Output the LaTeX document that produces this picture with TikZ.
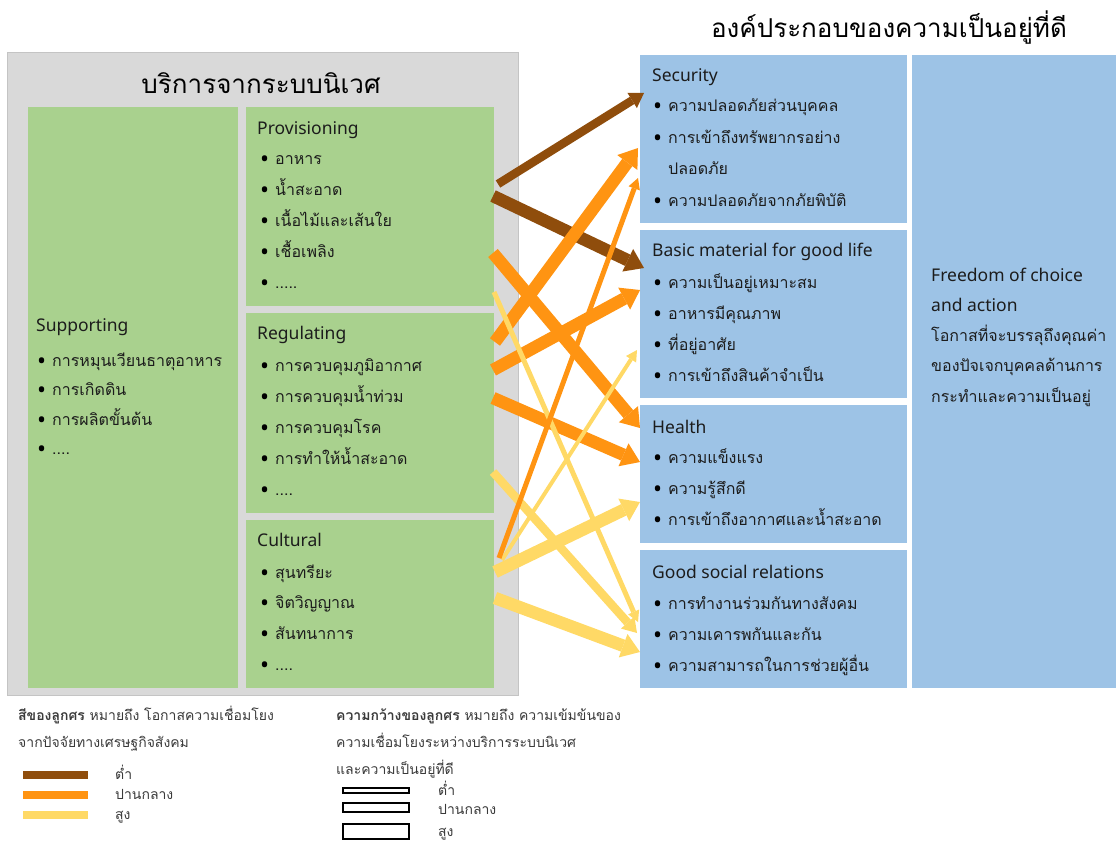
\documentclass[tikz,border=0pt]{standalone}
\usepackage{fontspec}
\usetikzlibrary{arrows.meta}
\setmainfont{Noto Sans}
\newfontfamily\thai[Script=Thai]{Loma}
\newfontfamily\lat{Noto Sans}

\definecolor{boxgreen}{HTML}{A9D18E}
\definecolor{boxblue}{HTML}{9DC3E6}
\definecolor{panelgray}{HTML}{D9D9D9}
\definecolor{paneledge}{HTML}{C4C4C4}
\definecolor{ink}{HTML}{1C1C1C}
\definecolor{legendink}{HTML}{3A3A3A}
\definecolor{flowbrown}{HTML}{8F4D0C}
\definecolor{floworange}{HTML}{FF9412}
\definecolor{flowyellow}{HTML}{FFD966}

% bullet with a fixed indent
\newcommand{\bdot}{\makebox[14pt][l]{\hspace*{-1pt}\raisebox{-3.2pt}{\lat\fontsize{24}{24}\selectfont\color{black}\char"2022}}}
% open-ended list markers
\newcommand{\moreA}{.....}
\newcommand{\moreB}{....}

\tikzset{
  panel/.style={anchor=north west, inner sep=0, outer sep=0, fill=panelgray, draw=paneledge, line width=0.8pt},
  gbox/.style={anchor=north west, inner sep=0, outer sep=0, fill=boxgreen},
  bbox/.style={anchor=north west, inner sep=0, outer sep=0, fill=boxblue},
  head/.style={anchor=base west, inner sep=0, text=ink, font=\lat\fontsize{17.5}{20}\selectfont},
  item/.style={anchor=base west, inner sep=0, text=ink, font=\thai\fontsize{16}{19}\selectfont},
  bigtitle/.style={anchor=base, inner sep=0, text=black, font=\thai\fontsize{26}{30}\selectfont},
  legendtext/.style={anchor=base west, inner sep=0, text=legendink, font=\thai\fontsize{14}{16}\selectfont},
  colorbar/.style={anchor=north west, inner sep=0, outer sep=0, minimum width=65pt, minimum height=8pt},
  widthbar/.style={anchor=north west, inner sep=0, outer sep=0, draw=black, fill=white, line width=1.3pt, minimum width=66pt},
  wlow/.style={line width=5pt, -{Triangle[length=11pt,width=12pt,line width=0pt]}},
  wmid/.style={line width=8.5pt, -{Triangle[length=14pt,width=18pt,line width=0pt]}},
  whigh/.style={line width=12.5pt, -{Triangle[length=18pt,width=25pt,line width=0pt]}},
  clow/.style={draw=flowbrown, fill=flowbrown},
  cmid/.style={draw=floworange, fill=floworange},
  chigh/.style={draw=flowyellow, fill=flowyellow},
}

\begin{document}
\begin{tikzpicture}[x=1pt,y=-1pt]
\useasboundingbox (0,0) rectangle (1116,846);

% ---------- ecosystem services ----------
\node[panel, minimum width=511pt, minimum height=643pt] (eco) at (7,52) {};
\node[bigtitle] (ecotitle) at (261,93) {บริการจากระบบนิเวศ};

\node[gbox, minimum width=210pt, minimum height=581pt] (supp) at (28,107) {};
\node[gbox, minimum width=248pt, minimum height=199pt] (prov) at (246,107) {};
\node[gbox, minimum width=248pt, minimum height=200pt] (reg)  at (246,313) {};
\node[gbox, minimum width=248pt, minimum height=168pt] (cult) at (246,520) {};

\node[head] (supph) at (36,331) {Supporting};
\foreach \t [count=\i] in {การหมุนเวียนธาตุอาหาร,การเกิดดิน,การผลิตขั้นต้น,\moreB}
  \node[item] (supp-\i) at (38,{366+29.5*(\i-1)}) {\bdot\t};

\node[head] (provh) at (257,134) {Provisioning};
\foreach \t [count=\i] in {อาหาร,น้ำสะอาด,เนื้อไม้และเส้นใย,เชื้อเพลิง,\moreA}
  \node[item] (prov-\i) at (261,{164+31*(\i-1)}) {\bdot\t};

\node[head] (regh) at (257,339) {Regulating};
\foreach \t [count=\i] in {การควบคุมภูมิอากาศ,การควบคุมน้ำท่วม,การควบคุมโรค,การทำให้น้ำสะอาด,\moreB}
  \node[item] (reg-\i) at (261,{371+31*(\i-1)}) {\bdot\t};

\node[head] (culth) at (257,546) {Cultural};
\foreach \t [count=\i] in {สุนทรียะ,จิตวิญญาณ,สันทนาการ,\moreB}
  \node[item] (cult-\i) at (261,{578+30.7*(\i-1)}) {\bdot\t};

% ---------- constituents of well-being ----------
\node[bigtitle] (wbtitle) at (889,37) {องค์ประกอบของความเป็นอยู่ที่ดี};

\node[bbox, minimum width=267pt, minimum height=168pt] (sec)    at (640,55) {};
\node[bbox, minimum width=267pt, minimum height=168pt] (basic)  at (640,230) {};
\node[bbox, minimum width=267pt, minimum height=138pt] (health) at (640,405) {};
\node[bbox, minimum width=267pt, minimum height=138pt] (social) at (640,550) {};
\node[bbox, minimum width=204pt, minimum height=633pt] (free)   at (912,55) {};

\node[head] (sech) at (652,81) {Security};
\node[item] (sec-1) at (654,111) {\bdot ความปลอดภัยส่วนบุคคล};
\node[item] (sec-2) at (654,143) {\bdot การเข้าถึงทรัพยากรอย่าง};
\node[item] (sec-3) at (668,174) {ปลอดภัย};
\node[item] (sec-4) at (654,206) {\bdot ความปลอดภัยจากภัยพิบัติ};

\node[head] (basich) at (652,256) {Basic material for good life};
\foreach \t [count=\i] in {ความเป็นอยู่เหมาะสม,อาหารมีคุณภาพ,ที่อยู่อาศัย,การเข้าถึงสินค้าจำเป็น}
  \node[item] (basic-\i) at (654,{288+31*(\i-1)}) {\bdot\t};

\node[head] (healthh) at (652,433) {Health};
\foreach \t [count=\i] in {ความแข็งแรง,ความรู้สึกดี,การเข้าถึงอากาศและน้ำสะอาด}
  \node[item] (health-\i) at (654,{463+31*(\i-1)}) {\bdot\t};

\node[head] (socialh) at (652,578) {Good social relations};
\foreach \t [count=\i] in {การทำงานร่วมกันทางสังคม,ความเคารพกันและกัน,ความสามารถในการช่วยผู้อื่น}
  \node[item] (social-\i) at (654,{609+31*(\i-1)}) {\bdot\t};

\node[head] (free-1) at (931,281) {Freedom of choice};
\node[head] (free-2) at (931,311) {and action};
\node[item] (free-3) at (931,341) {โอกาสที่จะบรรลุถึงคุณค่า};
\node[item] (free-4) at (931,371) {ของปัจเจกบุคคลด้านการ};
\node[item] (free-5) at (931,402) {กระทำและความเป็นอยู่};

% ---------- links ----------
\coordinate (a1s) at (498,184); \coordinate (a1e) at (644,93);
\coordinate (a2s) at (493,196); \coordinate (a2e) at (644,268);
\coordinate (a3s) at (493,253); \coordinate (a3e) at (640,428);
\coordinate (a4s) at (495,342); \coordinate (a4e) at (638,148);
\coordinate (a5s) at (493,370); \coordinate (a5e) at (640,290);
\coordinate (a6s) at (493,398); \coordinate (a6e) at (640,462);
\coordinate (a7s) at (499,558); \coordinate (a7e) at (638,178);
\coordinate (y1s) at (494,292); \coordinate (y1e) at (638,622);
\coordinate (y2s) at (502,560); \coordinate (y2e) at (637,350);
\coordinate (y3s) at (493,472); \coordinate (y3e) at (637,633);
\coordinate (y4s) at (495,572); \coordinate (y4e) at (640,502);
\coordinate (y5s) at (495,598); \coordinate (y5e) at (640,652);

\draw[clow, wmid]  (a1s) -- (a1e);
\draw[clow, whigh] (a2s) -- (a2e);
\draw[cmid, whigh] (a3s) -- (a3e);
\draw[cmid, whigh] (a4s) -- (a4e);
\draw[cmid, whigh] (a5s) -- (a5e);
\draw[cmid, whigh] (a6s) -- (a6e);
\draw[chigh, wlow] (y1s) -- (y1e);
\draw[chigh, wlow, line width=4pt] (y2s) -- (y2e);
\draw[chigh, wmid] (y3s) -- (y3e);
\draw[cmid, wlow]  (a7s) -- (a7e);
\draw[chigh, whigh] (y4s) -- (y4e);
\draw[chigh, whigh] (y5s) -- (y5e);

% ---------- legend ----------
\node[legendtext] (lc-1) at (18,720) {\textbf{สีของลูกศร} หมายถึง โอกาสความเชื่อมโยง};
\node[legendtext] (lc-2) at (18,747) {จากปัจจัยทางเศรษฐกิจสังคม};
\node[colorbar, fill=flowbrown]  (bar-1) at (23,771) {};
\node[colorbar, fill=floworange] (bar-2) at (23,791) {};
\node[colorbar, fill=flowyellow] (bar-3) at (23,811) {};
\node[legendtext] (lcl-1) at (115,779) {ต่ำ};
\node[legendtext] (lcl-2) at (115,799) {ปานกลาง};
\node[legendtext] (lcl-3) at (115,819) {สูง};

\node[legendtext] (lw-1) at (336,720) {\textbf{ความกว้างของลูกศร} หมายถึง ความเข้มข้นของ};
\node[legendtext] (lw-2) at (336,747) {ความเชื่อมโยงระหว่างบริการระบบนิเวศ};
\node[legendtext] (lw-3) at (336,774) {และความเป็นอยู่ที่ดี};
\node[widthbar, minimum height=5pt]  (wb-1) at (343,788) {};
\node[widthbar, minimum height=9pt]  (wb-2) at (343,803) {};
\node[widthbar, minimum height=15pt] (wb-3) at (343,824) {};
\node[legendtext] (lwl-1) at (438,795) {ต่ำ};
\node[legendtext] (lwl-2) at (438,814) {ปานกลาง};
\node[legendtext] (lwl-3) at (438,836) {สูง};
\end{tikzpicture}
\end{document}
